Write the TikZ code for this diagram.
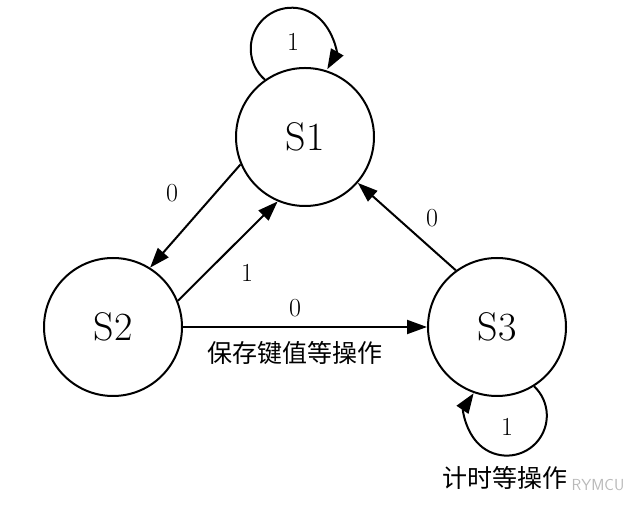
\documentclass[tikz,border=0pt]{standalone}
\usepackage{fontspec}
\newfontfamily\cjk{Noto Sans CJK SC}
\usetikzlibrary{arrows.meta}

\begin{document}
\begin{tikzpicture}
[
    x=1pt, y=1pt,
    state/.style={circle, draw, line width=2pt, minimum size=138pt, inner sep=0pt, font=\fontsize{40}{48}\selectfont},
    trans/.style={line width=2pt, -{Triangle[length=20pt, width=14pt]}},
    digit/.style={font=\fontsize{26}{30}\selectfont},
    note/.style={font=\cjk\fontsize{25}{30}\selectfont},
]
\useasboundingbox (0,0) rectangle (640,511);
\node [state] (S1) at (305,374) {S1};
\node [state] (S2) at (113,184) {S2};
\node [state] (S3) at (497,184) {S3};

\draw [trans] (S1.203) -- (S2.58);
\draw [trans] (S2.22) -- (S1.247);
\draw [trans] (S2.east) -- (S3.west);
\draw [trans] (S3.126) -- (S1.319);
\draw [trans] (S1.125) arc [start angle=229, end angle=-30, radius=41];
\draw [trans] (S3.302) arc [start angle=47, end angle=-214, radius=40];

\node [digit] (l11) at (293,469) {1};
\node [digit] (l12) at (172,318) {0};
\node [digit] (l21) at (247,238) {1};
\node [digit] (l23) at (295,203) {0};
\node [note] (save) at (295,158) {保存键值等操作};
\node [digit] (l31) at (432,293) {0};
\node [digit] (l33) at (507,84) {1};
\node [note] (timer) at (505,33) {计时等操作};
\node [font=\sffamily\fontsize{16}{18}\selectfont, text=gray!55] (mark) at (598,26) {RYMCU};
\end{tikzpicture}
\end{document}
